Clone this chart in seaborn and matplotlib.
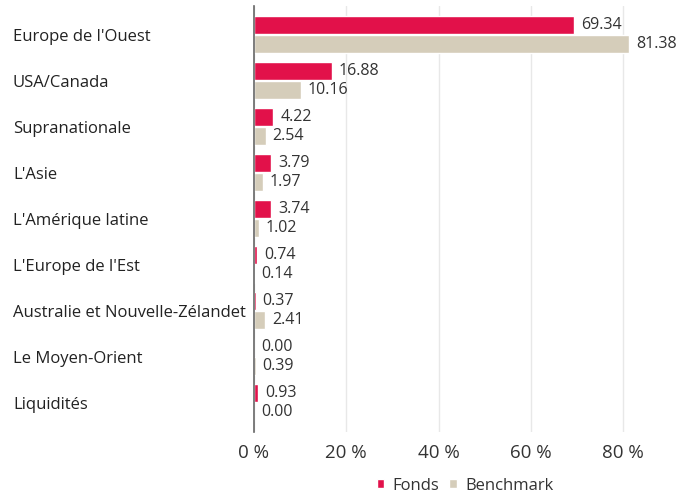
import numpy as np
import pandas as pd
import matplotlib.pyplot as plt
import seaborn as sns

regions = ["Europe de l'Ouest", "USA/Canada", "Supranationale", "L'Asie",
           "L'Amérique latine", "L'Europe de l'Est",
           "Australie et Nouvelle-Zélandet", "Le Moyen-Orient", "Liquidités"]
fonds = [69.34, 16.88, 4.22, 3.79, 3.74, 0.74, 0.37, 0.00, 0.93]
benchmark = [81.38, 10.16, 2.54, 1.97, 1.02, 0.14, 2.41, 0.39, 0.00]
series = ["Fonds", "Benchmark"]
xticks = [0, 20, 40, 60, 80]

df = pd.DataFrame({
    "region": regions * 2,
    "value": fonds + benchmark,
    "serie": [series[0]] * len(regions) + [series[1]] * len(regions),
})

sns.set_theme(style="white")
plt.rcParams['font.family'] = ['Open Sans', 'DejaVu Sans']

fig = plt.figure(figsize=(6.91, 4.96), dpi=100)
ax = fig.add_axes([254 / 691, 1 - 432 / 496, 406 / 691, 426 / 496])

sns.barplot(data=df, y="region", x="value", hue="serie", orient="h",
            palette=["#E2114A", "#D5CDBA"], saturation=1, width=0.84, gap=0.05,
            ax=ax, legend=True)

for c in ax.containers:
    ax.bar_label(c, fmt="%.2f", padding=5, fontsize=11.5, color="#333333")

ax.set_xlim(0, 88)
ax.set_ylim(8.64, -0.62)
ax.set_xticks(xticks)
ax.set_xticklabels([f"{t} %" for t in xticks], fontsize=13.5, color="#333333")
ax.tick_params(axis="x", length=0, pad=9)
ax.tick_params(axis="y", length=0, pad=241 / 100 * 72, labelsize=12,
               labelcolor="#222222")
for lbl in ax.get_yticklabels():
    lbl.set_ha("left")
ax.grid(axis="x", color="#e8e8e8", linewidth=1)
ax.set_axisbelow(True)
ax.set_xlabel("")
ax.set_ylabel("")
for s in ["top", "right", "bottom"]:
    ax.spines[s].set_visible(False)
ax.spines["left"].set_color("#666666")
ax.spines["left"].set_linewidth(1.2)

leg = ax.legend(loc="lower center", bbox_to_anchor=(0.52, -0.18),
                ncol=2, frameon=False, fontsize=12, handlelength=0.45,
                handleheight=0.45, handletextpad=0.5, columnspacing=0.6)
for t in leg.get_texts():
    t.set_color("#333333")

fig.savefig("out.png", dpi=100)
